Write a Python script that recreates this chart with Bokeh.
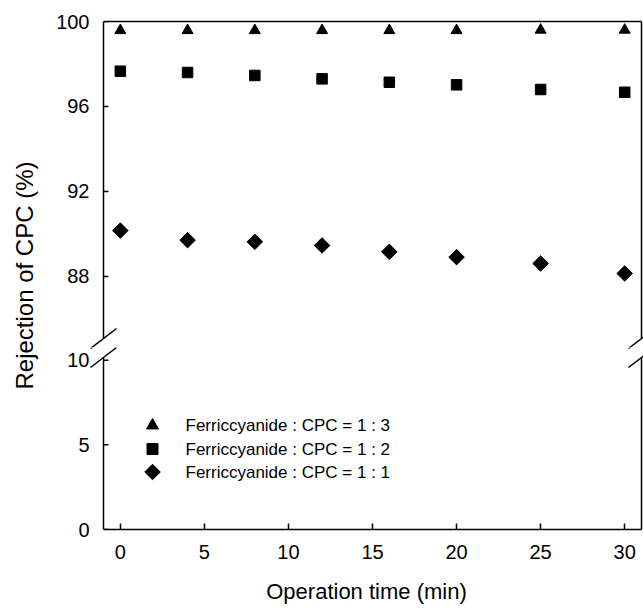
import numpy as np
from bokeh.plotting import figure
from bokeh.models import LinearAxis, FixedTicker, Range1d, Arrow, Label
from bokeh.layouts import row, column
from bokeh.embed import file_html
from bokeh.resources import INLINE
from bokeh.core.properties import value

# ---------------- data ----------------
time_min = [0, 4, 8, 12, 16, 20, 25, 30]
ratio_1_3 = [99.58, 99.58, 99.58, 99.58, 99.58, 99.58, 99.60, 99.60]
ratio_1_2 = [97.66, 97.60, 97.46, 97.30, 97.14, 97.02, 96.80, 96.67]
ratio_1_1 = [90.16, 89.71, 89.63, 89.46, 89.16, 88.91, 88.61, 88.14]
series_labels = ["Ferriccyanide : CPC = 1 : 3",
                 "Ferriccyanide : CPC = 1 : 2",
                 "Ferriccyanide : CPC = 1 : 1"]
x_ticks = [0, 5, 10, 15, 20, 25, 30]
y_ticks_top = [88, 92, 96, 100]
y_ticks_bottom = [0, 5, 10]
x_label = "Operation time (min)"
y_label = "Rejection of CPC (%)"

# axis extents of the two panels
X0, X1 = -1.0, 31.0
TOP_Y0, TOP_Y1 = 85.08, 100.0
BOT_Y0, BOT_Y1 = 0.0, 10.16

# ---------------- layout constants (page pixels) ----------------
FONT = "Liberation Sans"
W, H = 643, 609
LAB_W = 48                      # strip holding the shared y-axis title
FRAME_L, FRAME_R = 89, 643      # drawing frames (wider than the axes so break marks fit)
PX_AX_L, PX_AX_R = 103, 641     # axis lines
PX_TOP = 21
PX_TOP_BRK = 338
PX_BOT_BRK = 357
PX_BOTTOM = 529
SPLIT = 347
LW = 1.5
TICK_LEN = 5

SX = (PX_AX_R - PX_AX_L) / (X1 - X0)
SY_TOP = (PX_TOP_BRK - PX_TOP) / (TOP_Y1 - TOP_Y0)
SY_BOT = (PX_BOTTOM - PX_BOT_BRK) / (BOT_Y1 - BOT_Y0)
XR_START = X0 - (PX_AX_L - FRAME_L) / SX
XR_END = X1 + (FRAME_R - PX_AX_R) / SX
TOP_R_START = TOP_Y0 - (SPLIT - PX_TOP_BRK) / SY_TOP
BOT_R_END = BOT_Y1 + (PX_BOT_BRK - SPLIT) / SY_BOT

LEG_KEY_X = 152.0
LEG_TEXT_X = 185.0
LEG_ROWS_Y = [425.0, 448.5, 471.5]

FIG_W = W - LAB_W


def base_fig(height, y0, y1, mtop, mbot):
    p = figure(width=FIG_W, height=height,
               x_range=Range1d(XR_START, XR_END), y_range=Range1d(y0, y1),
               output_backend="svg", toolbar_location=None,
               x_axis_type=None, y_axis_type=None,
               min_border_left=FRAME_L - LAB_W, min_border_right=W - FRAME_R,
               min_border_top=mtop, min_border_bottom=mbot)
    p.outline_line_color = None
    p.background_fill_color = "white"
    p.border_fill_color = "white"
    return p


def add_value_axis(p, ticks, y0, y1):
    # tick labels from the axis (its own line hidden: the frame is wider than the axis)
    p.add_layout(LinearAxis(ticker=FixedTicker(ticks=ticks),
                            axis_line_color=None,
                            major_tick_in=0, major_tick_out=0,
                            minor_tick_in=0, minor_tick_out=0,
                            major_label_standoff=0,
                            major_label_text_font=FONT,
                            major_label_text_font_size="20px",
                            major_label_text_color="black"), "left")
    # left / right axis lines, limited to this panel's extent
    p.segment(x0=[X0, X1], y0=[y0, y0], x1=[X0, X1], y1=[y1, y1],
              line_color="black", line_width=LW)
    # inward tick marks of the left axis
    p.segment(x0=[X0] * len(ticks), y0=ticks,
              x1=[X0 + TICK_LEN / SX] * len(ticks), y1=ticks,
              line_color="black", line_width=LW)


top = base_fig(SPLIT, TOP_R_START, TOP_Y1, PX_TOP, 0)
bot = base_fig(H - SPLIT, BOT_Y0, BOT_R_END, 0, H - PX_BOTTOM)

add_value_axis(top, y_ticks_top, TOP_Y0, TOP_Y1)
add_value_axis(bot, y_ticks_bottom, BOT_Y0, BOT_Y1)

top.add_layout(LinearAxis(ticker=FixedTicker(ticks=x_ticks), bounds=(X0, X1),
                          major_tick_in=0, major_tick_out=0,
                          minor_tick_in=0, minor_tick_out=0,
                          major_label_standoff=0,
                          major_label_text_font_size="1px",
                          major_label_text_alpha=0,
                          axis_line_width=LW, axis_line_color="black"), "above")

xax = LinearAxis(ticker=FixedTicker(ticks=x_ticks), bounds=(X0, X1),
                 axis_label=x_label,
                 axis_label_standoff=17,
                 axis_label_text_font=FONT,
                 axis_label_text_font_size="22px",
                 axis_label_text_font_style="normal",
                 axis_label_text_color="black",
                 major_tick_in=6, major_tick_out=0,
                 minor_tick_in=0, minor_tick_out=0,
                 major_label_standoff=15,
                 major_label_text_font=FONT,
                 major_label_text_font_size="20px",
                 major_label_text_color="black",
                 axis_line_width=LW, axis_line_color="black",
                 major_tick_line_width=LW, major_tick_line_color="black")
bot.add_layout(xax, "below")


def x_data(xpx):
    return X0 + (xpx - PX_AX_L) / SX

def top_y(ypx):
    return TOP_Y1 - (ypx - PX_TOP) / SY_TOP

def bot_y(ypx):
    return BOT_Y0 + (PX_BOTTOM - ypx) / SY_BOT


styles = [dict(marker="triangle", size=11, angle=0.0, leg_size=12),
          dict(marker="square", size=10.5, angle=0.0, leg_size=11),
          dict(marker="square", size=11, angle=np.pi / 4, leg_size=11)]
series = [ratio_1_3, ratio_1_2, ratio_1_1]

for ys, st in zip(series, styles):
    top.scatter(time_min, ys, marker=st["marker"], size=st["size"], angle=st["angle"],
                fill_color="black", line_color="black")

for st, lab, ry in zip(styles, series_labels, LEG_ROWS_Y):
    bot.scatter([x_data(LEG_KEY_X)], [bot_y(ry)], marker=st["marker"], size=st["leg_size"],
                angle=st["angle"], fill_color="black", line_color="black")
    bot.text([x_data(LEG_TEXT_X)], [bot_y(ry)], text=[lab],
             text_font=value(FONT), text_font_size="17px", text_color="black",
             text_align="left", text_baseline="middle")

# ---------------- axis break marks ----------------
HALF_DX, HALF_DY = 13.0, 10.0
for ax_px in (PX_AX_L, PX_AX_R):
    for yc in (PX_TOP_BRK, PX_BOT_BRK):
        xa, ya = ax_px - HALF_DX, yc + HALF_DY
        xb, yb = ax_px + HALF_DX, yc - HALF_DY
        for fig, conv in ((top, top_y), (bot, bot_y)):
            fig.add_layout(Arrow(end=None, start=None,
                                 x_start=x_data(xa), y_start=conv(ya),
                                 x_end=x_data(xb), y_end=conv(yb),
                                 line_width=LW, line_color="black"))

labfig = figure(width=LAB_W, height=2 * 275, x_range=Range1d(0, 1), y_range=Range1d(0, 1),
                output_backend="svg", toolbar_location=None,
                x_axis_type=None, y_axis_type=None, min_border=0)
labfig.outline_line_color = None
labfig.add_layout(Label(x=0.5, y=0.5, text=y_label, angle=np.pi / 2,
                        text_align="center", text_baseline="middle",
                        text_font=FONT, text_font_size="24px", text_color="black"))

layout = row(labfig, column(top, bot))
open("out.html", "w").write(file_html(layout, INLINE))
